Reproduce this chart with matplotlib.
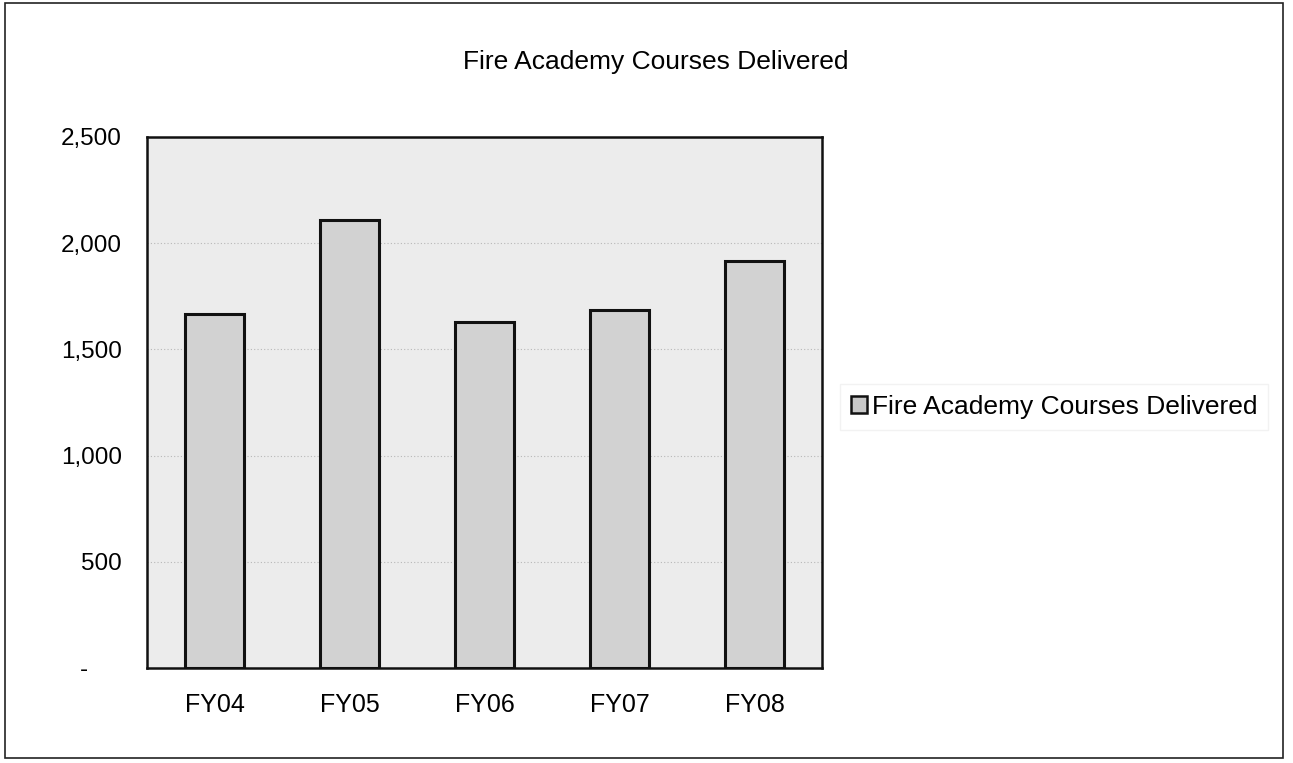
import matplotlib
matplotlib.use("Agg")
import matplotlib.pyplot as plt
from matplotlib.patches import Rectangle, Patch

categories = ["FY04", "FY05", "FY06", "FY07", "FY08"]
values = [1665, 2110, 1630, 1685, 1915]
yticks = [0, 500, 1000, 1500, 2000, 2500]
ytick_labels = ["-", "500", "1,000", "1,500", "2,000", "2,500"]
title = "Fire Academy Courses Delivered"
series_name = "Fire Academy Courses Delivered"

plt.rcParams['font.family'] = ['Liberation Sans', 'DejaVu Sans']

W, H = 1293, 763
fig = plt.figure(figsize=(W / 100, H / 100), dpi=100)
fig.patch.set_facecolor("white")

L, R, T, B = 147, 822, 137, 668
ax = fig.add_axes([L / W, 1 - B / H, (R - L) / W, (B - T) / H])
ax.set_facecolor("#ececec")

x = list(range(len(categories)))
ax.bar(x, values, width=0.43, color="#d2d2d2", edgecolor="#111111", linewidth=2.2,
       zorder=3, label=series_name)

# accounting-style zero: dash is padded away from the axis
shown_labels = [lab + "     " if lab == "-" else lab for lab in ytick_labels]

ax.set_xlim(-0.5, len(categories) - 0.5)
ax.set_ylim(0, 2500)
ax.set_yticks(yticks)
ax.set_yticklabels(shown_labels, fontsize=17.5)
ax.set_xticks(x)
ax.set_xticklabels(categories, fontsize=18)
ax.tick_params(axis="both", length=0)
ax.tick_params(axis="y", pad=18)
ax.tick_params(axis="x", pad=18)
ax.yaxis.grid(True, color="#b8b8b8", linestyle=(0, (1, 2)), linewidth=0.8, zorder=0)
for s in ax.spines.values():
    s.set_color("#111111")
    s.set_linewidth(1.8)

fig.text((463 + 848) / 2 / W, 1 - 62 / H, title, ha="center", va="center", fontsize=19)

leg = fig.legend(handles=[Patch(facecolor="#c8c8c8", edgecolor="#111111", linewidth=1.8,
                                label=series_name)],
                 loc="center left", bbox_to_anchor=(827 / W, 1 - 407 / H),
                 fontsize=19, frameon=True, handlelength=0.62, handleheight=0.62,
                 handletextpad=0.2, borderpad=0.4)
leg.get_frame().set_edgecolor("#efefef")
leg.get_frame().set_linewidth(1.0)
leg.get_frame().set_boxstyle("square", pad=0)

fig.add_artist(Rectangle((5 / W, 1 - 758 / H), (1283 - 5) / W, (758 - 3) / H,
                         transform=fig.transFigure, fill=False,
                         edgecolor="#222222", linewidth=1.2))

fig.savefig("out.png", dpi=100)
